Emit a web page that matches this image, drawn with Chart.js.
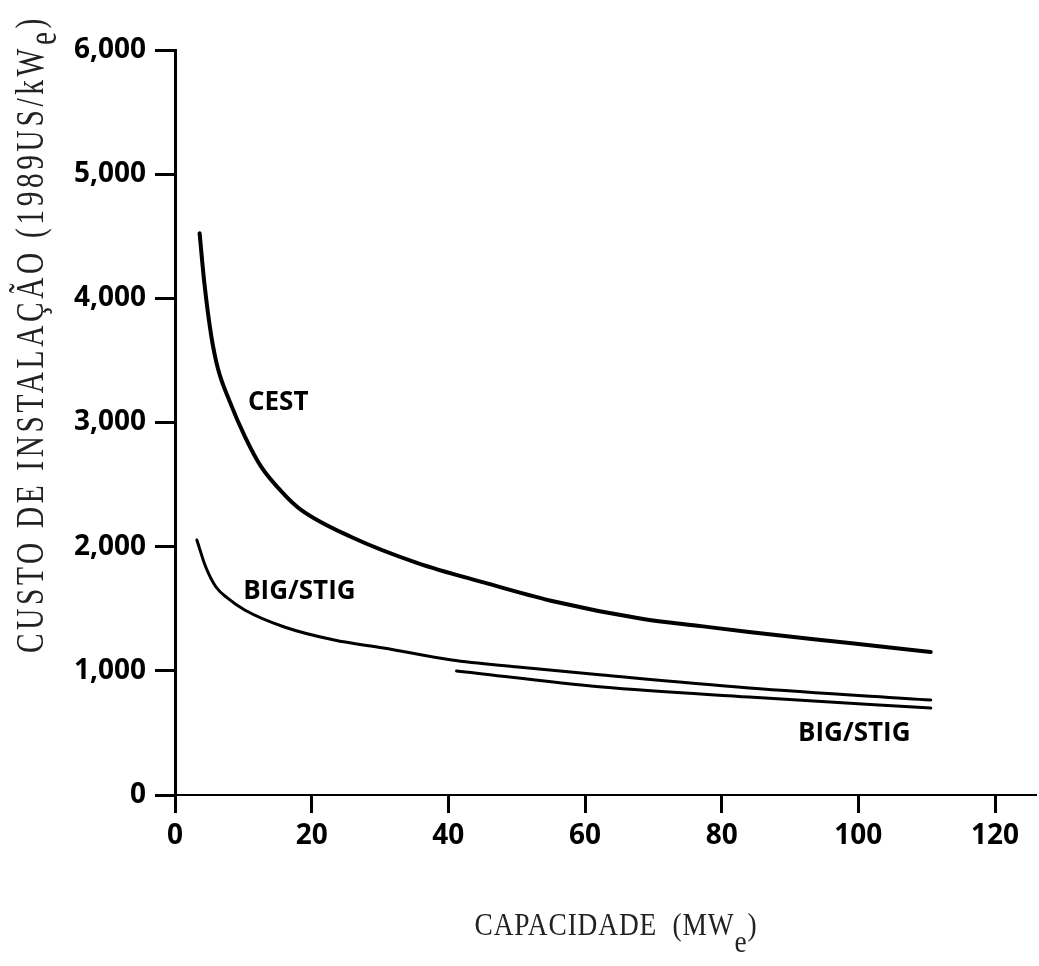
<!DOCTYPE html>
<html>
<head>
<meta charset="utf-8">
<script src="https://cdn.jsdelivr.net/npm/chart.js@4/dist/chart.umd.min.js"></script>
<style>
  html, body { margin: 0; padding: 0; background: #fff; }
  #wrap { width: 1039px; height: 966px; }
</style>
</head>
<body>
<div id="wrap"><canvas id="chart" width="1039" height="966"></canvas></div>
<script>
// ── Data ──────────────────────────────────────────────────────
const CEST_X = [3.6, 4.3, 5.3, 6.3, 8.0, 10.2, 12.6, 16, 18.5, 25.8, 35.5, 45.3, 55, 68.3, 77, 84, 98.7, 110.6];
const CEST_Y = [4524, 4121, 3700, 3430, 3170, 2890, 2644, 2420, 2295, 2078, 1868, 1710, 1565, 1420, 1360, 1313, 1224, 1152];

const BIG_X = [3.2, 4.5, 6.0, 7.7, 10.2, 16.0, 23.3, 30.5, 40.5, 50.2, 62.5, 84, 110.6];
const BIG_Y = [2054, 1836, 1675, 1585, 1490, 1353, 1248, 1184, 1087, 1031, 966, 862, 765];

const BIG2_X = [41.2, 62.5, 84, 110.6];
const BIG2_Y = [999, 870, 789, 700];

const LABEL_TEXT = ['CEST', 'BIG/STIG', 'BIG/STIG'];
const LABEL_X    = [15.1, 18.2, 99.4];
const LABEL_Y    = [3157, 1635, 491];

const X_MAX = 126, X_STEP = 20;
const Y_MAX = 6000, Y_STEP = 1000;

const TICK_FONT = { family: '"Open Sans", sans-serif', size: 28, weight: 'bold' };

const toPoints = (xs, ys) => xs.map((x, i) => ({ x, y: ys[i] }));

function curve(xs, ys, width) {
    return {
        data: toPoints(xs, ys),
        showLine: true,
        borderColor: '#000',
        borderWidth: width,
        pointRadius: 0,
        cubicInterpolationMode: 'monotone',
        borderCapStyle: 'round',
        fill: false
    };
}

// title with a lowered "e", squeezed to the width seen in the scan
function drawSubTitle(ctx, main, sub, tail, font, targetWidth, drop, spacing) {
    ctx.font = font;
    ctx.letterSpacing = spacing + 'px';
    const wMain = ctx.measureText(main).width;
    const wSub  = ctx.measureText(sub).width;
    const wTail = ctx.measureText(tail).width;
    const total = wMain + wSub + wTail;
    ctx.scale(targetWidth / total, 1);
    let x = -total / 2;
    ctx.fillText(main, x, 0); x += wMain;
    ctx.fillText(sub, x, drop); x += wSub;
    ctx.fillText(tail, x, 0);
    ctx.letterSpacing = '0px';
}

const textPlugin = {
    id: 'texts',
    afterDraw(chart) {
        const { ctx, scales: { x, y } } = chart;
        ctx.save();
        ctx.fillStyle = '#000';

        // curve labels
        ctx.font = 'bold 26px "Open Sans", sans-serif';
        ctx.textAlign = 'center';
        ctx.textBaseline = 'middle';
        LABEL_TEXT.forEach((t, i) => {
            ctx.fillText(t, x.getPixelForValue(LABEL_X[i]), y.getPixelForValue(LABEL_Y[i]));
        });

        // axis titles
        ctx.textAlign = 'left';
        ctx.textBaseline = 'alphabetic';
        ctx.fillStyle = '#222';

        ctx.save();
        ctx.translate(616, 935);
        drawSubTitle(ctx, 'CAPACIDADE  (MW', 'e', ')', '32px "Liberation Serif", serif', 283, 17, 1);
        ctx.restore();

        ctx.save();
        ctx.translate(43, 334);
        ctx.rotate(-Math.PI / 2);
        drawSubTitle(ctx, 'CUSTO DE INSTALAÇÃO (1989US/kW', 'e', ')', '40px "Liberation Serif", serif', 638, 13, 5);
        ctx.restore();

        ctx.restore();
    }
};

new Chart(document.getElementById('chart'), {
    type: 'scatter',
    data: {
        datasets: [
            curve(CEST_X, CEST_Y, 4),
            curve(BIG_X, BIG_Y, 3),
            curve(BIG2_X, BIG2_Y, 3)
        ]
    },
    options: {
        responsive: false,
        animation: false,
        layout: { padding: { top: 50, right: 3, left: 0, bottom: 0 } },
        plugins: { legend: { display: false }, tooltip: { enabled: false } },
        scales: {
            x: {
                type: 'linear',
                min: 0,
                max: X_MAX,
                afterFit: s => { s.height = 171; },
                ticks: {
                    stepSize: X_STEP,
                    includeBounds: false,
                    color: '#000',
                    font: TICK_FONT,
                    padding: 6,
                    maxRotation: 0
                },
                grid: {
                    drawOnChartArea: false,
                    drawTicks: true,
                    tickLength: 18,
                    tickWidth: 3,
                    tickColor: '#000'
                },
                border: { display: true, color: '#000', width: 2 }
            },
            y: {
                min: 0,
                max: Y_MAX,
                afterFit: s => { s.width = 175; },
                ticks: {
                    stepSize: Y_STEP,
                    color: '#000',
                    font: TICK_FONT,
                    padding: 9,
                    callback: v => v.toLocaleString('en-US')
                },
                grid: {
                    drawOnChartArea: false,
                    drawTicks: true,
                    tickLength: 20,
                    tickWidth: 3,
                    tickColor: '#000'
                },
                border: { display: true, color: '#000', width: 3 }
            }
        }
    },
    plugins: [textPlugin]
});
</script>
</body>
</html>
